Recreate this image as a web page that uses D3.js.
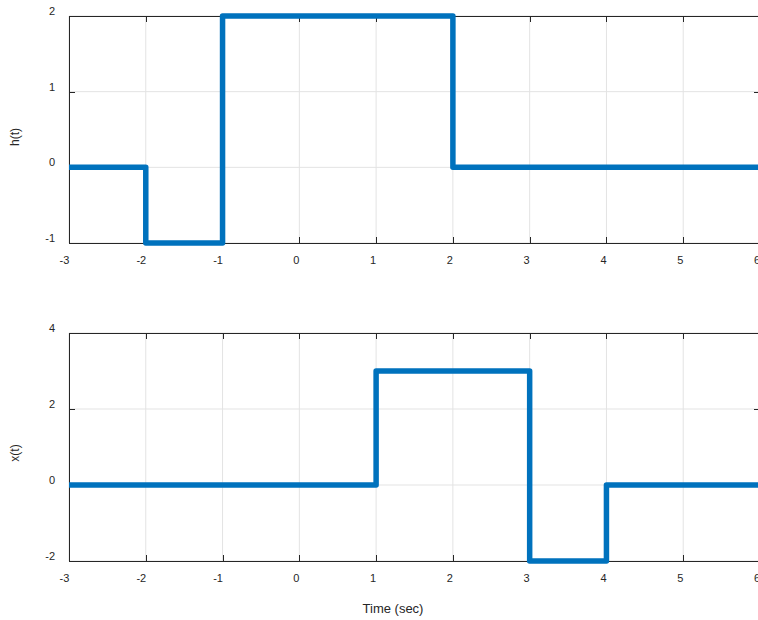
<!DOCTYPE html>
<html><head><meta charset="utf-8">
<script src="https://cdn.jsdelivr.net/npm/d3@7"></script>
<style>body{margin:0;background:#fff;overflow:hidden}svg{display:block}</style>
</head><body>
<script>
const hTime = [-3, -2, -2, -1, -1, 2, 2, 6];
const hVals = [0, 0, -1, -1, 2, 2, 0, 0];
const xTime = [-3, 1, 1, 3, 3, 4, 4, 6];
const xVals = [0, 0, 3, 3, -2, -2, 0, 0];
const xTicks = [-3, -2, -1, 0, 1, 2, 3, 4, 5, 6];
const hTicks = [-1, 0, 1, 2];
const xsTicks = [-2, 0, 2, 4];

const W = 758, H = 620;
const svg = d3.select("body").append("svg").attr("width", W).attr("height", H);
const font = "Liberation Sans, Arial, Helvetica, sans-serif";
const axisColor = "#262626";

function panel(top, bottom, times, vals, yDomain, yTicks, ylabel, ylabelY) {
  const x = d3.scaleLinear().domain([-3, 6]).range([69, 760]);
  const y = d3.scaleLinear().domain(yDomain).range([bottom, top]);
  const g = svg.append("g");
  // grid
  g.selectAll(".vg").data(xTicks).enter().append("line")
    .attr("x1", d => x(d)).attr("x2", d => x(d)).attr("y1", top).attr("y2", bottom)
    .attr("stroke", "#e3e3e3").attr("stroke-width", 1);
  g.selectAll(".hg").data(yTicks).enter().append("line")
    .attr("x1", 69).attr("x2", 760).attr("y1", d => y(d)).attr("y2", d => y(d))
    .attr("stroke", "#e3e3e3").attr("stroke-width", 1);
  // axes box with inward ticks
  const bAx = d3.axisBottom(x).tickValues(xTicks).tickSize(-6).tickFormat("");
  const tAx = d3.axisTop(x).tickValues(xTicks).tickSize(-6).tickFormat("");
  const lAx = d3.axisLeft(y).tickValues(yTicks).tickSize(-6).tickFormat("");
  const rAx = d3.axisRight(y).tickValues(yTicks).tickSize(-6).tickFormat("");
  [[bAx, `translate(0,${bottom})`], [tAx, `translate(0,${top})`], [lAx, `translate(69,0)`], [rAx, `translate(760,0)`]].forEach(([ax, tr]) => {
    const a = g.append("g").attr("transform", tr).call(ax);
    a.selectAll("path,line").attr("stroke", axisColor).attr("stroke-width", 1).attr("shape-rendering", "crispEdges");
    a.select(".domain").attr("d", null);
  });
  g.append("rect").attr("x", 69.5).attr("y", top + 0.5).attr("width", 760 - 69).attr("height", bottom - top)
    .attr("fill", "none").attr("stroke", axisColor).attr("stroke-width", 1);
  // tick labels
  g.selectAll(".xl").data(xTicks).enter().append("text")
    .attr("x", d => x(d) - (d < 0 ? 4.5 : 3)).attr("y", bottom + 21).attr("text-anchor", "middle")
    .attr("font-family", font).attr("font-size", 11).attr("fill", axisColor).text(d => d);
  g.selectAll(".yl").data(yTicks).enter().append("text")
    .attr("x", 55).attr("y", d => y(d) - 1).attr("text-anchor", "end")
    .attr("font-family", font).attr("font-size", 11).attr("fill", axisColor).text(d => d);
  g.append("text").attr("transform", `translate(19,${ylabelY}) rotate(-90)`)
    .attr("text-anchor", "middle").attr("font-family", font).attr("font-size", 12)
    .attr("fill", axisColor).text(ylabel);
  // data line
  const pts = times.map((t, i) => [t, vals[i]]);
  const line = d3.line().x(d => x(d[0])).y(d => y(d[1]));
  g.append("path").datum(pts).attr("d", line).attr("fill", "none")
    .attr("stroke", "#0072BD").attr("stroke-width", 5.5).attr("stroke-linejoin", "round").attr("stroke-linecap", "butt");
}

panel(16, 243, hTime, hVals, [-1, 2], hTicks, "h(t)", 137);
panel(333, 561, xTime, xVals, [-2, 4], xsTicks, "x(t)", 453);

svg.append("text").attr("x", 393).attr("y", 612.5).attr("text-anchor", "middle")
  .attr("font-family", font).attr("font-size", 13).attr("fill", axisColor).text("Time (sec)");
</script>
</body></html>
